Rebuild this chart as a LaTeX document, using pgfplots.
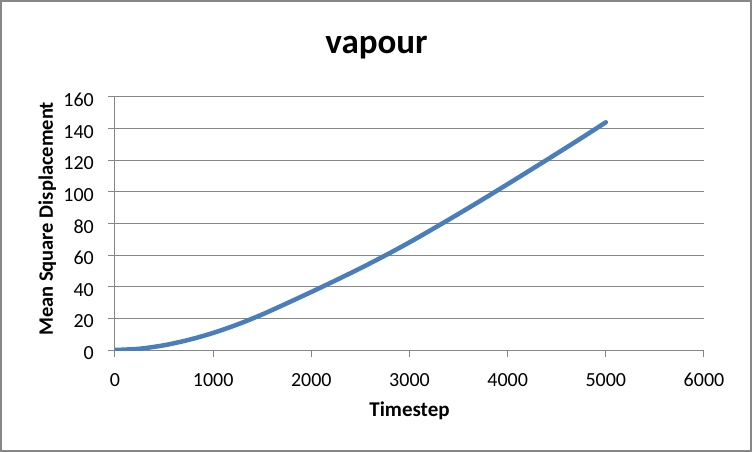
\documentclass[border=0pt]{standalone}
\usepackage{pgfplots}
\pgfplotsset{compat=1.18}
\usepackage{fontspec}
\setmainfont{Carlito}
\usetikzlibrary{calc}
\definecolor{msdblue}{HTML}{4A7EBB}
\definecolor{gridgray}{HTML}{878787}

\begin{document}
\begin{tikzpicture}
\begin{axis}[
  name=ax,
  scale only axis, width=589bp, height=253bp,
  xmin=0, xmax=6000, ymin=0, ymax=160,
  xtick distance=1000, ytick distance=20,
  axis lines=left, axis line style={-, gridgray, line width=1bp},
  ymajorgrids, grid style={gridgray, line width=1bp},
  tick align=outside, major tick length=7bp, tick style={gridgray, line width=1bp},
  scaled x ticks=false,
  /pgf/number format/assume math mode=true,
  /pgf/number format/1000 sep={},
  ticklabel style={font=\fontsize{20bp}{22bp}\selectfont, inner sep=0pt},
  xticklabel style={anchor=base, yshift=-29bp},
  yticklabel style={anchor=east, xshift=-14bp, yshift=-3bp},
  title={vapour},
  title style={font=\fontsize{35bp}{38bp}\selectfont\bfseries, anchor=base,
    at={(axis description cs:0.444,1.147)}},
  xlabel={Timestep},
  xlabel style={font=\fontsize{21bp}{22bp}\selectfont\bfseries, anchor=base,
    at={(axis description cs:0.5,-0.2636)}},
  ylabel={Mean Square Displacement},
  ylabel style={font=\fontsize{20.5bp}{22bp}\selectfont\bfseries, anchor=base,
    at={(axis description cs:-0.1053,0.518)}},
]
\addplot[msdblue, line width=4.5bp, smooth, line cap=round] coordinates {
  (0,0) (250,0.8) (500,3.0) (750,6.4) (1000,10.8) (1250,16.2) (1500,22.5)
  (1750,29.5) (2000,36.7) (2250,44.1) (2500,51.7) (2750,59.7) (3000,68.1)
  (3250,77.0) (3500,86.1) (3750,95.4) (4000,104.9) (4250,114.5) (4500,124.2)
  (4750,134.0) (5000,144.0)
};
\end{axis}
\draw[gridgray, line width=1.2bp] ($(ax.south west)+(-114bp,-101bp)$) rectangle ($(ax.south west)+(636bp,349bp)$);
\pgfresetboundingbox
\path ($(ax.south west)+(-115bp,-102bp)$) rectangle ($(ax.south west)+(638bp,350bp)$);
\end{tikzpicture}
\end{document}
